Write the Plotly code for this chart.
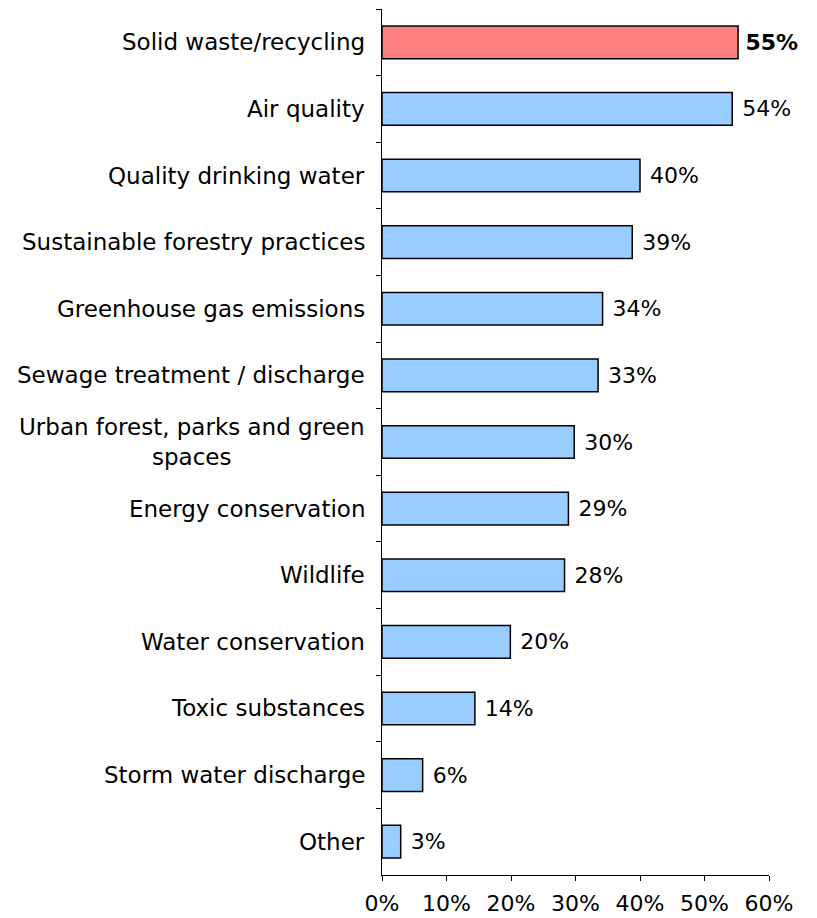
import plotly.graph_objects as go

categories = [
    "Solid waste/recycling",
    "Air quality",
    "Quality drinking water",
    "Sustainable forestry practices",
    "Greenhouse gas emissions",
    "Sewage treatment / discharge",
    "Urban forest, parks and green<br>spaces",
    "Energy conservation",
    "Wildlife",
    "Water conservation",
    "Toxic substances",
    "Storm water discharge",
    "Other",
]
values = [55.2, 54.3, 40.0, 38.8, 34.2, 33.5, 29.8, 28.9, 28.3, 19.9, 14.4, 6.3, 2.9]
labels = ["55%", "54%", "40%", "39%", "34%", "33%", "30%", "29%", "28%", "20%", "14%", "6%", "3%"]
highlight = "Solid waste/recycling"

FONT = "DejaVu Sans, Verdana, sans-serif"
colors = ["#FF8080" if c == highlight else "#99CCFF" for c in categories]
texts = [("\u2009<b>%s</b>" % l) if c == highlight else "\u00a0" + l for c, l in zip(categories, labels)]

fig = go.Figure(go.Bar(
    y=categories, x=values, orientation="h",
    marker=dict(color=colors, line=dict(color="#000000", width=1.5)),
    width=0.49,
    text=texts, textposition="outside", cliponaxis=False,
    textfont=dict(family=FONT, size=22, color="#000000"),
))

for c in categories:
    fig.add_annotation(
        x=0, y=c, xref="paper", yref="y", text=c, showarrow=False,
        xanchor="right", yanchor="middle", align="center", xshift=-15,
        font=dict(family=FONT, size=23, color="#000000"),
    )

fig.update_layout(
    width=817, height=918,
    margin=dict(l=374, r=56, t=1, b=51),
    paper_bgcolor="white", plot_bgcolor="white",
    showlegend=False,
    font=dict(family=FONT, size=22, color="#000000"),
    xaxis=dict(range=[0, 60], dtick=10, ticksuffix="%", showgrid=False, zeroline=False,
               showline=True, linecolor="#000000", linewidth=1,
               ticks="outside", ticklen=5, tickcolor="#000000", ticklabelstandoff=4,
               tickfont=dict(family=FONT, size=22, color="#000000")),
    yaxis=dict(autorange="reversed", showticklabels=False, showgrid=False,
               showline=True, linecolor="#000000", linewidth=1,
               ticks="outside", ticklen=5, tickcolor="#000000", tickson="boundaries"),
)

fig.write_html("out.html")
